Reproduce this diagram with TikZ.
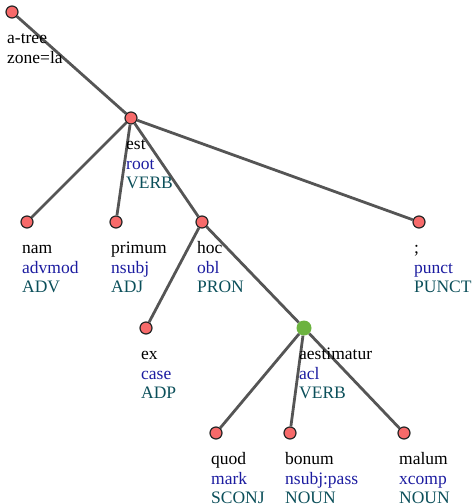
\documentclass[tikz,border=0pt]{standalone}
\usepackage{fontspec}
\setmainfont{Liberation Serif}
\usetikzlibrary{positioning}
\definecolor{nodered}{HTML}{F76A6A}
\definecolor{nodegreen}{HTML}{6CB33F}
\definecolor{edgegray}{HTML}{555555}
\definecolor{relblue}{HTML}{1C1CA0}
\definecolor{posteal}{HTML}{0B4F5A}
\newcommand{\lem}[1]{\strut#1}
\newcommand{\deprel}[1]{\textcolor{relblue}{#1}}
\newcommand{\upos}[1]{\textcolor{posteal}{#1}}

\begin{document}
\begin{tikzpicture}[x=1pt, y=-1pt]
  % Define styles
  \tikzstyle{tok} = [circle, draw=black!85, fill=nodered, line width=1.2pt, minimum size=12pt, inner sep=0pt]
  \tikzstyle{headtok} = [circle, fill=nodegreen, minimum size=15pt, inner sep=0pt]
  \tikzstyle{edge} = [draw, line width=2.8pt, color=edgegray]
  \tikzstyle{lbl} = [anchor=north west, inner sep=0pt, align=left, font=\fontsize{17.5pt}{19.5pt}\selectfont]

  \useasboundingbox (0,0) rectangle (474,504);

  % Place nodes
  \node [tok] (root) at (12,12) {};
  \node [tok] (est) at (131,118) {};
  \node [tok] (nam) at (27,222) {};
  \node [tok] (primum) at (116,222) {};
  \node [tok] (hoc) at (202,222) {};
  \node [tok] (semi) at (419,222) {};
  \node [tok] (ex) at (146,328) {};
  \node [headtok] (aestimatur) at (304,328) {};
  \node [tok] (quod) at (216,433) {};
  \node [tok] (bonum) at (290,433) {};
  \node [tok] (malum) at (404,433) {};

  % Draw edges
  \path [edge] (root) -- (est);
  \path [edge] (est) -- (nam);
  \path [edge] (est) -- (primum);
  \path [edge] (est) -- (hoc);
  \path [edge] (est) -- (semi);
  \path [edge] (hoc) -- (ex);
  \path [edge] (hoc) -- (aestimatur);
  \path [edge] (aestimatur) -- (quod);
  \path [edge] (aestimatur) -- (bonum);
  \path [edge] (aestimatur) -- (malum);

  % Labels
  \node [lbl] (rootlabel) at ([shift={(-5,18)}]root.center) {\lem{a-tree}\\\lem{zone=la}};
  \node [lbl] (estlabel) at ([shift={(-5,18)}]est.center) {\lem{est}\\\deprel{root}\\\upos{VERB}};
  \node [lbl] (namlabel) at ([shift={(-5,18)}]nam.center) {\lem{nam}\\\deprel{advmod}\\\upos{ADV}};
  \node [lbl] (primumlabel) at ([shift={(-5,18)}]primum.center) {\lem{primum}\\\deprel{nsubj}\\\upos{ADJ}};
  \node [lbl] (hoclabel) at ([shift={(-5,18)}]hoc.center) {\lem{hoc}\\\deprel{obl}\\\upos{PRON}};
  \node [lbl] (semilabel) at ([shift={(-5,18)}]semi.center) {\lem{;}\\\deprel{punct}\\\upos{PUNCT}};
  \node [lbl] (exlabel) at ([shift={(-5,18)}]ex.center) {\lem{ex}\\\deprel{case}\\\upos{ADP}};
  \node [lbl] (aestimaturlabel) at ([shift={(-5,18)}]aestimatur.center) {\lem{aestimatur}\\\deprel{acl}\\\upos{VERB}};
  \node [lbl] (quodlabel) at ([shift={(-5,18)}]quod.center) {\lem{quod}\\\deprel{mark}\\\upos{SCONJ}};
  \node [lbl] (bonumlabel) at ([shift={(-5,18)}]bonum.center) {\lem{bonum}\\\deprel{nsubj:pass}\\\upos{NOUN}};
  \node [lbl] (malumlabel) at ([shift={(-5,18)}]malum.center) {\lem{malum}\\\deprel{xcomp}\\\upos{NOUN}};
\end{tikzpicture}
\end{document}
